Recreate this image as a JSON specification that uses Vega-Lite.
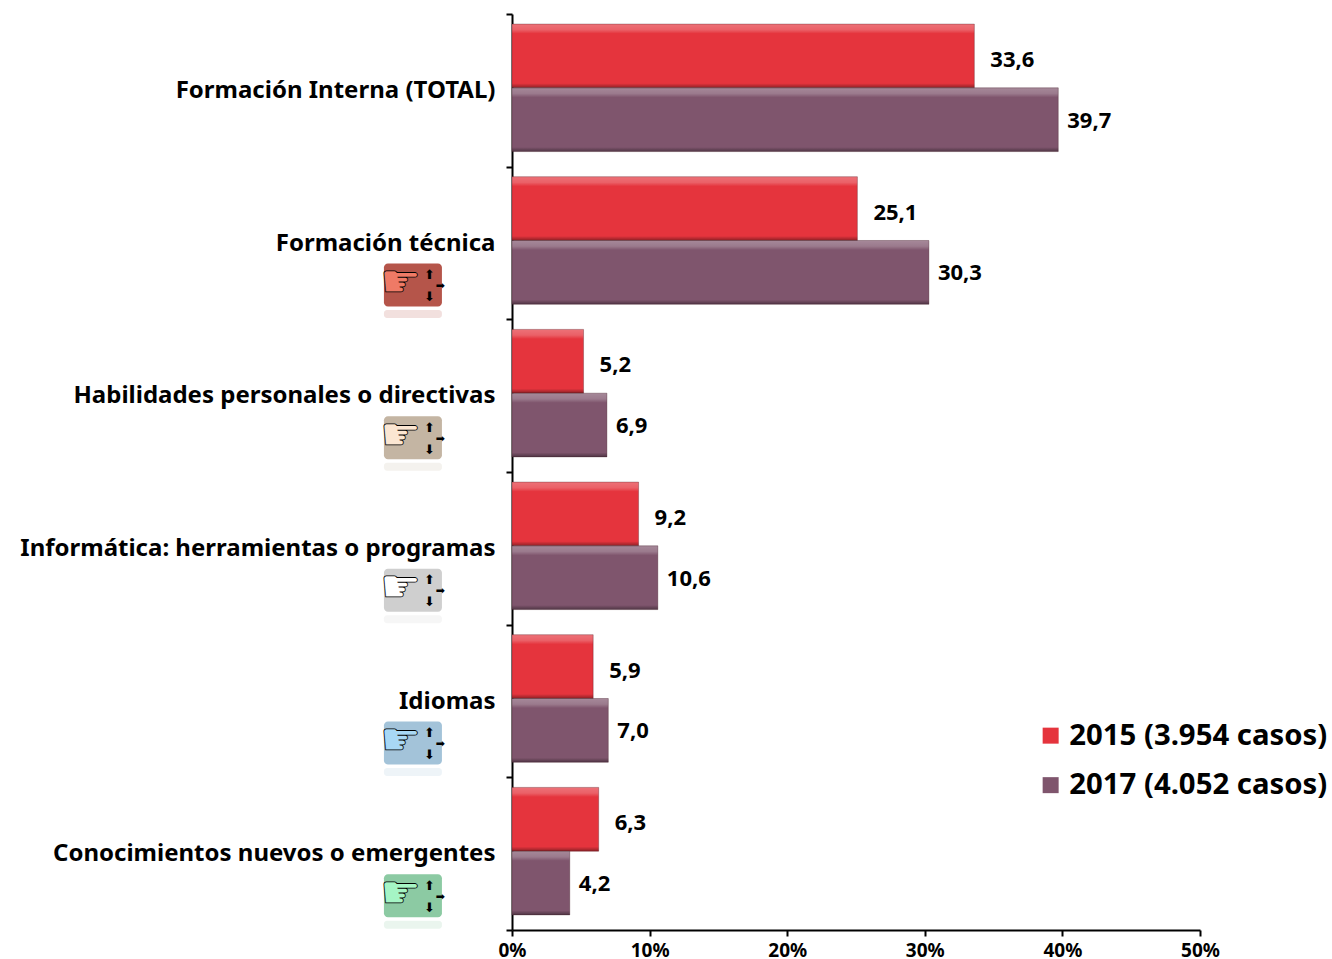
{
"$schema":"https://vega.github.io/schema/vega-lite/v6.json",
"width":688,"height":916,
"autosize":{"type":"none"},
"padding":{"left":512,"top":14,"right":132,"bottom":29},
"background":"white",
"config":{"view":{"stroke":null},"font":"Noto Sans"},
"datasets":{
"bars":[
{"categoria":"Formación Interna (TOTAL)","serie":"2015 (3.954 casos)","valor":33.6,"etiqueta":"33,6"},
{"categoria":"Formación Interna (TOTAL)","serie":"2017 (4.052 casos)","valor":39.7,"etiqueta":"39,7"},
{"categoria":"Formación técnica","serie":"2015 (3.954 casos)","valor":25.1,"etiqueta":"25,1"},
{"categoria":"Formación técnica","serie":"2017 (4.052 casos)","valor":30.3,"etiqueta":"30,3"},
{"categoria":"Habilidades personales o directivas","serie":"2015 (3.954 casos)","valor":5.2,"etiqueta":"5,2"},
{"categoria":"Habilidades personales o directivas","serie":"2017 (4.052 casos)","valor":6.9,"etiqueta":"6,9"},
{"categoria":"Informática: herramientas o programas","serie":"2015 (3.954 casos)","valor":9.2,"etiqueta":"9,2"},
{"categoria":"Informática: herramientas o programas","serie":"2017 (4.052 casos)","valor":10.6,"etiqueta":"10,6"},
{"categoria":"Idiomas","serie":"2015 (3.954 casos)","valor":5.9,"etiqueta":"5,9"},
{"categoria":"Idiomas","serie":"2017 (4.052 casos)","valor":7.0,"etiqueta":"7,0"},
{"categoria":"Conocimientos nuevos o emergentes","serie":"2015 (3.954 casos)","valor":6.3,"etiqueta":"6,3"},
{"categoria":"Conocimientos nuevos o emergentes","serie":"2017 (4.052 casos)","valor":4.2,"etiqueta":"4,2"}
],
"iconos":[
{"categoria":"Formación técnica","fondo":"#b5554a","mano":"#ef7a66"},
{"categoria":"Habilidades personales o directivas","fondo":"#c4b5a3","mano":"#fbe6d2"},
{"categoria":"Informática: herramientas o programas","fondo":"#cfcfcf","mano":"#ffffff"},
{"categoria":"Idiomas","fondo":"#a3c3d9","mano":"#a8d8f5"},
{"categoria":"Conocimientos nuevos o emergentes","fondo":"#8ccaa3","mano":"#a5f5c5"}
]
},
"encoding":{
"y":{"field":"categoria","type":"nominal","sort":null,"title":null,
"scale":{"domain":["Formación Interna (TOTAL)","Formación técnica","Habilidades personales o directivas","Informática: herramientas o programas","Idiomas","Conocimientos nuevos o emergentes"],"paddingInner":0,"paddingOuter":0},
"axis":{"labelFont":"Noto Sans","labelFontWeight":"bold","labelFontSize":24,"labelColor":"black","labelLimit":520,"labelPadding":11,"labelOffset":0,"tickBand":"extent","tickColor":"black","tickWidth":2,"tickSize":6,"domainColor":"black","domainWidth":2,"grid":false}}
},
"layer":[
{"data":{"name":"bars"},
"mark":{"type":"bar","strokeWidth":0},
"encoding":{
"x":{"field":"valor","type":"quantitative","title":null,
"scale":{"domain":[0,50],"nice":false},
"axis":{"values":[0,10,20,30,40,50],"labelExpr":"datum.value + '%'","labelFont":"Noto Sans","labelFontWeight":"bold","labelFontSize":19,"labelColor":"black","labelPadding":5,"tickColor":"black","tickWidth":2,"tickSize":6,"domainColor":"black","domainWidth":2,"grid":false,"labelFlush":false}},
"yOffset":{"field":"serie","type":"nominal","scale":{"paddingInner":0,"paddingOuter":0.197,"align":0.4}},
"color":{"field":"serie","type":"nominal","title":null,
"scale":{"domain":["2015 (3.954 casos)","2017 (4.052 casos)"],"range":["#e5343d","#7f556d"]},
"legend":{"orient":"none","legendX":524,"legendY":707,"symbolType":"square","symbolSize":256,"symbolStrokeWidth":0,"labelFont":"Noto Sans","labelFontWeight":"bold","labelFontSize":29.3,"labelColor":"black","labelLimit":400,"rowPadding":19.5}}
}},
{"data":{"name":"bars"},
"mark":{"type":"bar","stroke":"rgba(60,20,30,0.3)","strokeWidth":1,"color":{"gradient":"linear","x1":0,"y1":0,"x2":0,"y2":1,"stops":[{"offset":0,"color":"rgba(255,255,255,0.3)"},{"offset":0.09,"color":"rgba(255,255,255,0.22)"},{"offset":0.15,"color":"rgba(255,255,255,0)"},{"offset":0.93,"color":"rgba(0,0,0,0)"},{"offset":1,"color":"rgba(0,0,0,0.38)"}]}},
"encoding":{
"x":{"field":"valor","type":"quantitative"},
"yOffset":{"field":"serie","type":"nominal"}
}},
{"data":{"name":"bars"},"transform":[{"filter":"indexof(datum.serie,'2015')==0"}],
"mark":{"type":"text","align":"left","baseline":"middle","dx":16,"dy":4,"fontSize":22,"fontWeight":"bold","font":"Noto Sans","color":"black"},
"encoding":{"x":{"field":"valor","type":"quantitative"},"yOffset":{"field":"serie","type":"nominal"},"text":{"field":"etiqueta"}}},
{"data":{"name":"bars"},"transform":[{"filter":"indexof(datum.serie,'2017')==0"}],
"mark":{"type":"text","align":"left","baseline":"middle","dx":9,"dy":1,"fontSize":22,"fontWeight":"bold","font":"Noto Sans","color":"black"},
"encoding":{"x":{"field":"valor","type":"quantitative"},"yOffset":{"field":"serie","type":"nominal"},"text":{"field":"etiqueta"}}},
{"data":{"name":"iconos"},
"mark":{"type":"rect","width":58,"height":43,"cornerRadius":4,"yOffset":42},
"encoding":{"x":{"datum":-7.2,"type":"quantitative"},"fill":{"field":"fondo","type":"nominal","scale":null}}},
{"data":{"name":"iconos"},
"mark":{"type":"rect","width":58,"height":8,"cornerRadius":3,"yOffset":71,"opacity":0.18},
"encoding":{"x":{"datum":-7.2,"type":"quantitative"},"fill":{"field":"fondo","type":"nominal","scale":null}}},
{"data":{"name":"iconos"},
"mark":{"type":"text","text":"☛","font":"DejaVu Sans","fontSize":46,"align":"center","baseline":"middle","yOffset":40,"stroke":"black","strokeWidth":0.8},
"encoding":{"x":{"datum":-8.1,"type":"quantitative"},"color":{"field":"mano","type":"nominal","scale":null}}},
{"data":{"name":"iconos"},
"mark":{"type":"text","text":"⬆","font":"DejaVu Sans","fontSize":13,"align":"center","baseline":"middle","yOffset":32,"color":"black"},
"encoding":{"x":{"datum":-6.0,"type":"quantitative"}}},
{"data":{"name":"iconos"},
"mark":{"type":"text","text":"⬇","font":"DejaVu Sans","fontSize":13,"align":"center","baseline":"middle","yOffset":54,"color":"black"},
"encoding":{"x":{"datum":-6.0,"type":"quantitative"}}},
{"data":{"name":"iconos"},
"mark":{"type":"text","text":"➡","font":"DejaVu Sans","fontSize":11,"align":"center","baseline":"middle","yOffset":43,"color":"black"},
"encoding":{"x":{"datum":-5.2,"type":"quantitative"}}}
]
}
